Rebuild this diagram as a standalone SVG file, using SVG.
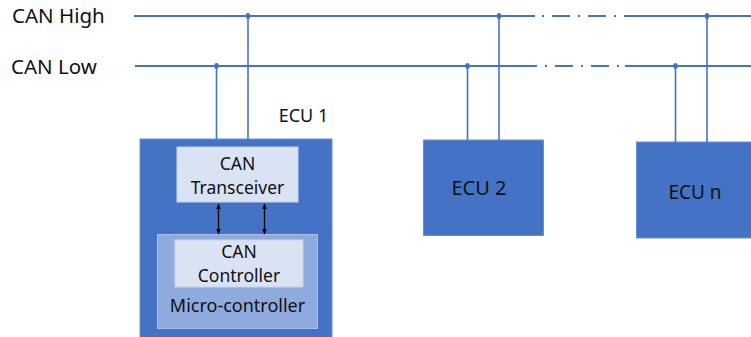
<svg xmlns="http://www.w3.org/2000/svg" width="751" height="337" viewBox="0 0 751 337">
  <defs>
    <style>
      .bus { stroke: #4472C4; stroke-width: 2; fill: none; }
      .dashdot { stroke: #4472C4; stroke-width: 2; fill: none; stroke-dasharray: 2 8 18 8; }
      .drop { stroke: #4472C4; stroke-width: 1.6; fill: none; }
      .tap { fill: #4472C4; }
      .ecu { fill: #4472C4; stroke: #6A8FD0; stroke-width: 1; }
      .light { fill: #DAE3F3; stroke: #C9D3E3; stroke-width: 1; }
      .mcu { fill: #8FAADC; stroke: #A9BFE6; stroke-width: 1; }
      .link { stroke: #000000; stroke-width: 1.3; fill: none; marker-start: url(#head); marker-end: url(#head); }
      text { font-family: "Noto Sans", "Liberation Sans", sans-serif; fill: #111111; }
      .bus-label { font-size: 20.5px; }
      .lbl { font-size: 18px; text-anchor: middle; }
      .inner { font-size: 17.5px; }
    </style>
    <marker id="head" viewBox="0 0 10 10" refX="9" refY="5" markerWidth="6" markerHeight="6" orient="auto-start-reverse" markerUnits="userSpaceOnUse">
      <path d="M0,1 L10,5 L0,9 z" fill="#000000"/>
    </marker>
  </defs>

  <!-- bus labels -->
  <text class="bus-label" x="12" y="23">CAN High</text>
  <text class="bus-label" x="11" y="74">CAN Low</text>

  <!-- nodes -->
  <g id="ecu1">
    <rect class="ecu" x="140" y="139" width="192" height="200"/>
    <text class="lbl" x="303.5" y="122">ECU 1</text>
  </g>
  <g id="transceiver">
    <rect class="light" x="177" y="147" width="121" height="55"/>
    <text class="lbl inner" x="237.5" y="170">CAN</text>
    <text class="lbl inner" x="237.5" y="194">Transceiver</text>
  </g>
  <g id="microcontroller">
    <rect class="mcu" x="157.5" y="234.5" width="160" height="94"/>
    <text class="lbl" x="237.5" y="312">Micro-controller</text>
  </g>
  <g id="controller">
    <rect class="light" x="175" y="240" width="128" height="47"/>
    <text class="lbl inner" x="239" y="258">CAN</text>
    <text class="lbl inner" x="239" y="282">Controller</text>
  </g>
  <g id="ecu2">
    <rect class="ecu" x="423.5" y="140" width="120" height="95.5"/>
    <text class="lbl" x="479" y="195" style="font-size:20px">ECU 2</text>
  </g>
  <g id="ecun">
    <rect class="ecu" x="636.5" y="142" width="120" height="96"/>
    <text class="lbl" x="695" y="199" style="font-size:19px">ECU n</text>
  </g>

  <!-- connectors -->
  <g id="connectors">
    <!-- CAN High bus -->
    <line class="bus" x1="134" y1="16" x2="535" y2="16"/>
    <line class="dashdot" x1="542" y1="16" x2="627" y2="16"/>
    <line class="bus" x1="627" y1="16" x2="751" y2="16"/>
    <!-- CAN Low bus -->
    <line class="bus" x1="135" y1="66" x2="537" y2="66"/>
    <line class="dashdot" x1="545" y1="66" x2="620" y2="66"/>
    <line class="bus" x1="625" y1="66" x2="751" y2="66"/>

    <!-- ECU 1 drops -->
    <line class="drop" x1="248" y1="16" x2="248" y2="139"/>
    <line class="drop" x1="216.5" y1="66" x2="216.5" y2="139"/>
    <ellipse class="tap" cx="248" cy="16" rx="2.3" ry="3"/>
    <ellipse class="tap" cx="216.5" cy="66" rx="2.3" ry="3"/>

    <!-- ECU 2 drops -->
    <line class="drop" x1="499" y1="16" x2="499" y2="140"/>
    <line class="drop" x1="467.5" y1="66" x2="467.5" y2="140"/>
    <ellipse class="tap" cx="499" cy="16" rx="2.3" ry="3"/>
    <ellipse class="tap" cx="467.5" cy="66" rx="2.3" ry="3"/>

    <!-- ECU n drops -->
    <line class="drop" x1="707" y1="16" x2="707" y2="142"/>
    <line class="drop" x1="675.5" y1="66" x2="675.5" y2="142"/>
    <ellipse class="tap" cx="707" cy="16" rx="2.3" ry="3"/>
    <ellipse class="tap" cx="675.5" cy="66" rx="2.3" ry="3"/>

    <!-- transceiver <-> controller links -->
    <line class="link" x1="218.5" y1="204" x2="218.5" y2="234"/>
    <line class="link" x1="264.5" y1="204" x2="264.5" y2="234"/>
  </g>
</svg>
